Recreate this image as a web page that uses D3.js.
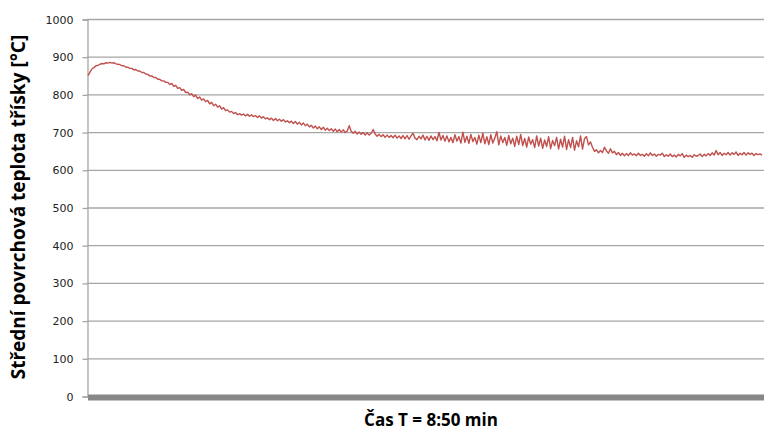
<!DOCTYPE html>
<html>
<head>
<meta charset="utf-8">
<script src="https://cdn.jsdelivr.net/npm/d3@7"></script>
<style>
  body { margin: 0; background: #fff; }
  .tick-label { font-family: "DejaVu Sans", sans-serif; font-size: 11px; fill: #222; }
  .axis-title { font-family: "Open Sans", sans-serif; font-weight: bold; fill: #000; }
</style>
</head>
<body>
<div id="wrapper"></div>
<script>
// Surface temperature samples (one every ~2 px of the trace)
const temperature = [
  850, 859, 868, 871, 876, 877, 880, 882, 881, 884,
  883, 885, 883, 884, 881, 880, 879, 876, 876, 872,
  872, 869, 869, 865, 866, 862, 862, 858, 858, 854,
  853, 849, 849, 845, 845, 840, 840, 836, 836, 832,
  832, 826, 829, 821, 824, 816, 818, 811, 813, 805,
  806, 799, 802, 794, 798, 789, 793, 785, 788, 781,
  784, 775, 779, 770, 774, 766, 770, 761, 765, 757,
  759, 753, 755, 749, 752, 746, 749, 745, 748, 743,
  747, 742, 746, 741, 744, 739, 743, 737, 741, 735,
  738, 733, 737, 731, 736, 730, 734, 729, 733, 727,
  730, 725, 729, 723, 728, 721, 726, 719, 724, 717,
  721, 714, 718, 711, 716, 709, 714, 707, 713, 705,
  710, 704, 709, 702, 708, 701, 707, 700, 706, 699,
  703, 717, 702, 697, 702, 695, 700, 694, 699, 692,
  698, 692, 697, 707, 695, 689, 694, 688, 693, 686,
  692, 686, 691, 685, 692, 684, 690, 683, 691, 682,
  691, 681, 690, 697, 684, 680, 689, 682, 692, 679,
  689, 678, 690, 680, 688, 677, 699, 679, 691, 676,
  690, 674, 686, 672, 693, 676, 688, 671, 700, 673,
  689, 670, 694, 675, 686, 668, 692, 672, 697, 669,
  688, 667, 693, 671, 684, 701, 666, 690, 672, 686,
  665, 691, 669, 684, 662, 689, 667, 694, 664, 683,
  660, 687, 668, 680, 659, 690, 663, 684, 657, 679,
  662, 688, 656, 678, 664, 686, 655, 681, 660, 689,
  654, 680, 659, 686, 652, 677, 661, 690, 655, 683,
  688, 666, 674, 660, 649, 653, 645, 651, 646, 660,
  650, 644, 656, 645, 649, 640, 646, 638, 644, 637,
  643, 638, 645, 639, 642, 637, 644, 638, 641, 636,
  643, 637, 645, 638, 642, 636, 641, 639, 644, 635,
  640, 636, 642, 635, 639, 634, 641, 637, 643, 633,
  639, 635, 638, 633, 640, 636, 638, 642, 635, 641,
  637, 643, 638, 645, 639, 651, 640, 646, 638, 644,
  640, 646, 639, 645, 641, 647, 638, 644, 640, 646,
  639, 645, 641, 644, 638, 643, 640, 642, 639
];
const yTicks = [0, 100, 200, 300, 400, 500, 600, 700, 800, 900, 1000];
const yTitle = "Střední povrchová teplota třísky [°C]";
const xTitle = "Čas T = 8:50 min";

const width = 764;
const height = 430;
const plot = { left: 87, right: 763, top: 19, bottom: 396 };

const svg = d3.select("#wrapper")
  .append("svg")
    .attr("width", width)
    .attr("height", height);

const xScale = d3.scaleLinear()
  .domain([0, temperature.length - 1])
  .range([plot.left + 1, plot.right - 1]);

const yScale = d3.scaleLinear()
  .domain([0, 1000])
  .range([plot.bottom, plot.top]);

// gridlines
svg.append("g")
  .selectAll("line")
  .data(yTicks.filter(d => d > 0))
  .join("line")
    .attr("x1", plot.left)
    .attr("x2", plot.right + 1)
    .attr("y1", d => yScale(d) + 0.5)
    .attr("y2", d => yScale(d) + 0.5)
    .attr("stroke", "#a6a6a6")
    .attr("stroke-width", 1.3);

// left axis with tick marks
const yAxis = d3.axisLeft(yScale)
  .tickValues(yTicks)
  .tickSize(5)
  .tickPadding(9)
  .tickFormat(d3.format("d"));

const yAxisGroup = svg.append("g")
  .attr("transform", `translate(${plot.left + 0.5}, 0.5)`)
  .call(yAxis);
yAxisGroup.select(".domain")
  .attr("stroke", "#a6a6a6")
  .attr("stroke-width", 1.3);
yAxisGroup.selectAll(".tick line")
  .attr("stroke", "#a6a6a6")
  .attr("stroke-width", 1.3);
yAxisGroup.selectAll(".tick text")
  .attr("class", "tick-label")
  .attr("font-family", null)
  .attr("font-size", null)
  .attr("fill", null);

// thick floor at zero
svg.append("rect")
  .attr("x", plot.left + 1)
  .attr("y", yScale(0) - 1.5)
  .attr("width", plot.right - plot.left + 1)
  .attr("height", 6)
  .attr("fill", "#878787");

// temperature trace
const line = d3.line()
  .x((d, i) => xScale(i))
  .y(d => yScale(d));

svg.append("path")
  .datum(temperature)
  .attr("d", line)
  .attr("fill", "none")
  .attr("stroke", "#c0504d")
  .attr("stroke-width", 1.4)
  .attr("stroke-linejoin", "round");

// axis titles
svg.append("text")
  .attr("class", "axis-title")
  .attr("transform", `translate(25, 207) rotate(-90)`)
  .attr("text-anchor", "middle")
  .style("font-size", "19px")
  .text(yTitle);

svg.append("text")
  .attr("class", "axis-title")
  .attr("x", 431)
  .attr("y", 426)
  .attr("text-anchor", "middle")
  .style("font-size", "17px")
  .text(xTitle);
</script>
</body>
</html>
